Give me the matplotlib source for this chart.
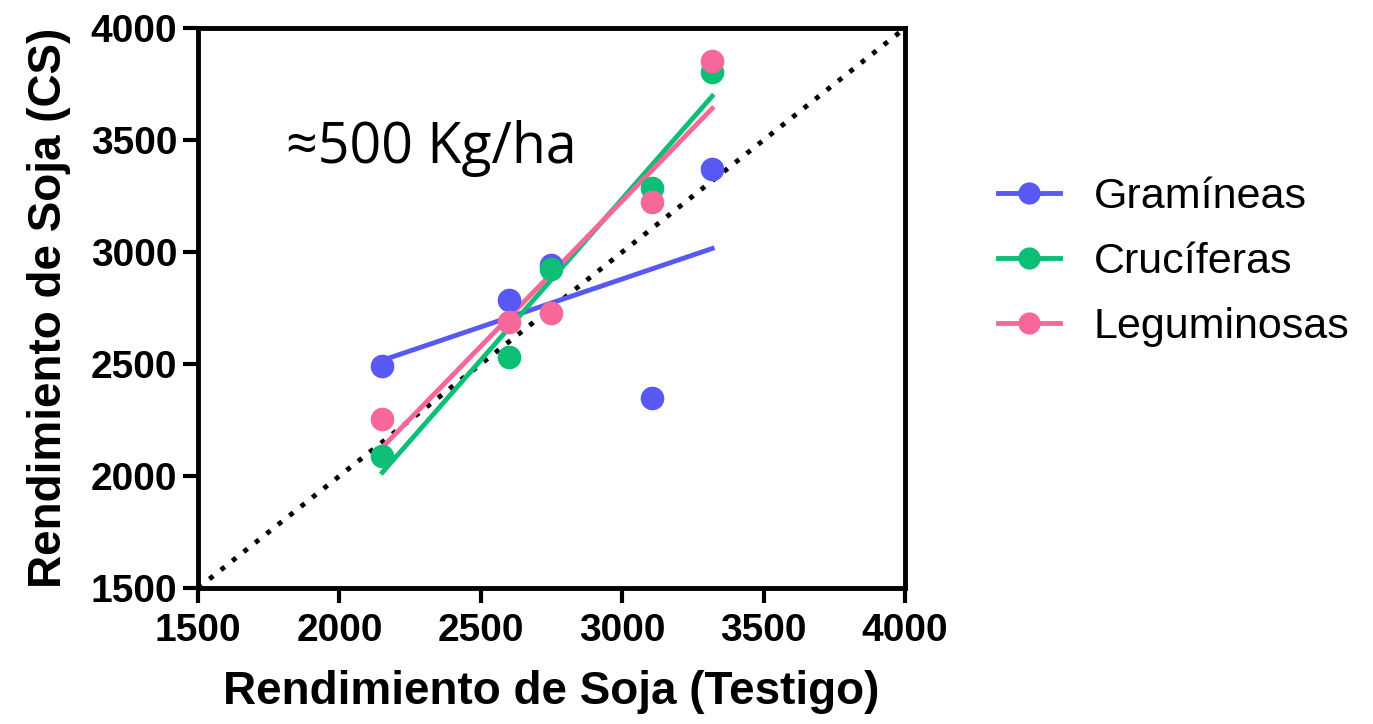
import numpy as np
import matplotlib.pyplot as plt

# datos
testigo = [2152, 2601, 2748, 3106, 3318]
gramineas = [2491, 2786, 2942, 2348, 3371]
cruciferas = [2091, 2533, 2924, 3287, 3805]
leguminosas = [2253, 2689, 2726, 3225, 3854]

series = [
    ("Gramíneas", gramineas, "#5858F5"),
    ("Crucíferas", cruciferas, "#0DBF74"),
    ("Leguminosas", leguminosas, "#F7679A"),
]

fig = plt.figure(figsize=(13.73, 7.24), dpi=100)
ax = fig.add_axes([0.1442, 0.1878, 0.515, 0.7735])

# linea 1:1
ax.plot([1500, 4000], [1500, 4000], color="black", linestyle=(0, (1, 2)), linewidth=3.5, zorder=1)

x = np.array(testigo)
for name, y, c in series:
    m, b = np.polyfit(x, y, 1)
    xs = np.array([x.min(), x.max()])
    ax.plot(xs, m * xs + b, color=c, linewidth=3.5, zorder=2)
    ax.plot(x, y, "o", color=c, markersize=16, zorder=3)
    ax.plot([], [], "-o", color=c, linewidth=3.5, markersize=15, label=name)

ax.set_xlim(1500, 4000)
ax.set_ylim(1500, 4000)
ticks = [1500, 2000, 2500, 3000, 3500, 4000]
ax.set_xticks(ticks)
ax.set_yticks(ticks)
for lab in ax.get_xticklabels() + ax.get_yticklabels():
    lab.set_fontweight("bold")
    lab.set_fontfamily("Liberation Sans")
ax.tick_params(labelsize=28, width=3, length=11, direction="out")
ax.tick_params(axis="x", pad=7)
ax.tick_params(axis="y", pad=4)
for s in ax.spines.values():
    s.set_linewidth(3.5)

ax.set_xlabel("Rendimiento de Soja (Testigo)", fontsize=33, fontweight="bold",
              family="Liberation Sans", labelpad=15)
ax.set_ylabel("Rendimiento de Soja (CS)", fontsize=33, fontweight="bold",
              family="Liberation Sans", labelpad=14)

ax.text(0.125, 0.785, "≈500 Kg/ha", transform=ax.transAxes, fontsize=40,
        family="Open Sans", va="center", ha="left")

fig.legend(loc="center left", bbox_to_anchor=(0.699, 0.638), frameon=False,
           prop={"family": "Liberation Sans", "size": 31},
           handlelength=1.42, labelspacing=0.59, handletextpad=0.79)

fig.savefig("out.png", dpi=100)
